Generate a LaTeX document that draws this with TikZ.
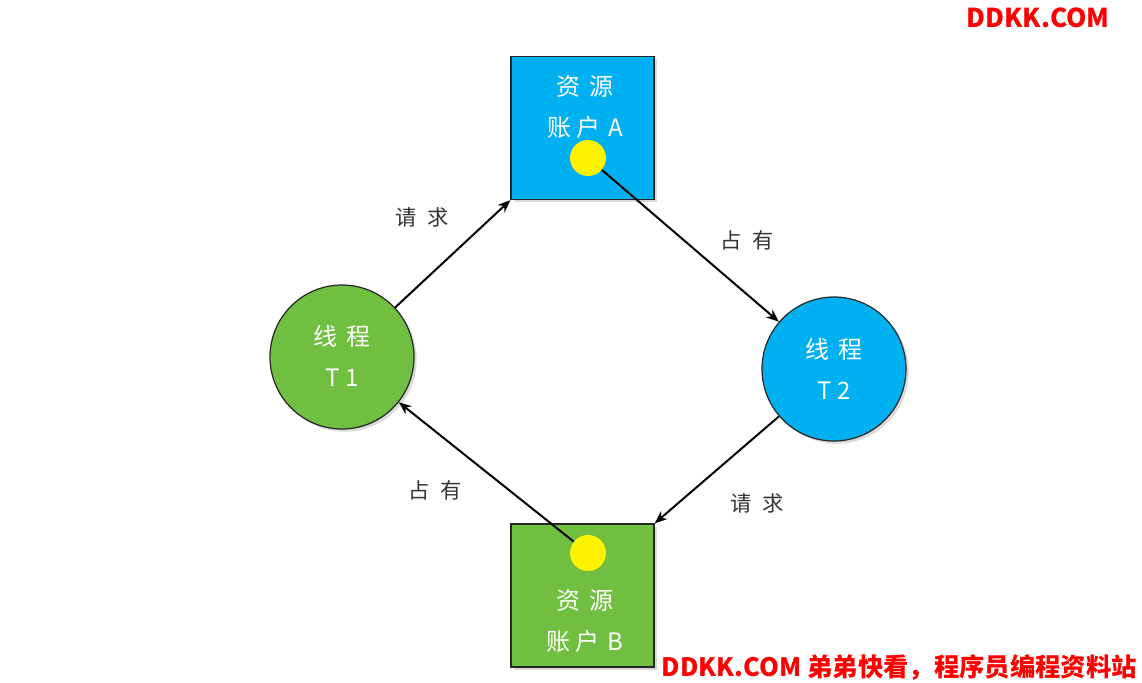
\documentclass[tikz,border=0pt]{standalone}
\usepackage{fontspec}
\setmainfont{Noto Sans CJK SC}
\usetikzlibrary{shadows,arrows.meta}
\definecolor{cyanA}{HTML}{00B0F0}
\definecolor{greenB}{HTML}{70BF41}
\definecolor{wmred}{HTML}{FF0000}
\definecolor{lbl}{HTML}{333333}
\tikzset{
  resbox/.style={draw=black!85, line width=0.9pt, minimum width=107.25pt, minimum height=107.25pt, inner sep=0pt,
    drop shadow={shadow xshift=2pt, shadow yshift=-2pt, opacity=0.3}},
  thread/.style={circle, draw=black!85, line width=0.9pt, minimum size=108pt, inner sep=0pt,
    drop shadow={shadow xshift=2pt, shadow yshift=-2pt, opacity=0.3}},
  token/.style={circle, fill=yellow, minimum size=27pt, inner sep=0pt},
  intext/.style={text=white, font=\fontsize{18}{30.75}\selectfont, align=center, inner sep=0pt},
  edgelbl/.style={text=lbl, font=\fontsize{16}{18}\selectfont, inner sep=0pt},
  conn/.style={-{Stealth[length=9.5pt,width=7.5pt]}, line width=1.5pt, black},
  wm/.style={text=wmred, font=\bfseries\fontsize{19.5}{22}\selectfont, inner sep=0pt}
}
\begin{document}
\begin{tikzpicture}[x=0.75pt,y=-0.75pt]
\useasboundingbox (0,0) rectangle (1142,682);
% resources
\node[resbox, fill=cyanA] (A) at (582.5,128) {};
\node[resbox, fill=greenB] (B) at (582.5,595.5) {};
% threads
\node[thread, fill=greenB] (T1) at (342,357) {};
\node[thread, fill=cyanA] (T2) at (834,369) {};
% texts inside shapes
\node[intext] (Atext) at (585,107) {资\hspace{7pt}源\\账\hspace{4pt}户\hspace{6pt}A};
\node[intext] (Btext) at (585,621) {资\hspace{7pt}源\\账\hspace{4pt}户\hspace{6pt}B};
\node[intext] (T1text) at (342,356) {线\hspace{7pt}程\\T\hspace{4pt}1};
\node[intext] (T2text) at (834,369) {线\hspace{7pt}程\\T\hspace{4pt}2};
% tokens
\node[token] (ya) at (588,158) {};
\node[token] (yb) at (588,553) {};
% connectors
\draw[conn] (T1) -- (A.south west);
\draw[conn] (ya) -- (T2);
\draw[conn] (T2) -- (B.north east);
\draw[conn] (yb) -- (T1);
% edge labels
\node[edgelbl] (l1) at (422,217) {请\hspace{8pt}求};
\node[edgelbl] (l2) at (747,240) {占\hspace{8pt}有};
\node[edgelbl] (l3) at (757,503) {请\hspace{8pt}求};
\node[edgelbl] (l4) at (435,490) {占\hspace{8pt}有};
% watermarks
\node[wm, anchor=east] (wm1) at (1110,18) {DDKK.COM};
\node[wm, anchor=east, font=\bfseries\fontsize{19}{22}\selectfont] (wm2) at (1137,667) {DDKK.COM 弟弟快看，程序员编程资料站};
\end{tikzpicture}
\end{document}
